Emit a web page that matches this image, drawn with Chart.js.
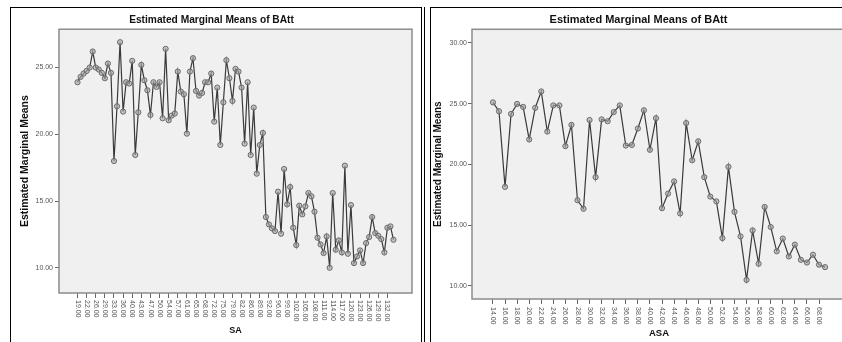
<!DOCTYPE html>
<html>
<head>
<meta charset="utf-8">
<script src="https://cdn.jsdelivr.net/npm/chart.js@4/dist/chart.umd.min.js"></script>
<style>
  html, body { margin: 0; padding: 0; background: #fff; width: 842px; height: 342px; overflow: hidden; }
  .panel { position: absolute; border: 1px solid #000; border-bottom: none; }
  #p1 { left: 10px; top: 7px; width: 410px; height: 340px; }
  #p2 { left: 430px; top: 7px; width: 420px; height: 340px; border-right: none; }
  .sep { position: absolute; left: 424px; top: 7px; width: 1px; height: 340px; background: #000; }
  canvas { position: absolute; }
  #c1 { left: 11px; top: 8px; }
  #c2 { left: 431px; top: 8px; }
</style>
</head>
<body>
<div class="panel" id="p1"></div>
<div class="sep"></div>
<div class="panel" id="p2"></div>
<canvas id="c1" width="410" height="334"></canvas>
<canvas id="c2" width="420" height="334"></canvas>
<script>
// SA categories (every third one gets a label)
const saValues = [19,20,21,22,23,24,26,27,28,29,30,31,33,34,35,36,37,38,40,41,42,43,44,45,
  47,48,49,50,51,53,54,55,56,57,59,60,61,62,63,65,66,67,68,69,71,72,73,74,75,76,
  78,79,80,81,82,83,85,86,87,88,89,90,91,92,94,95,96,97,98,99,100,101,
  102,103,104,105,106,107,108,109,110,111,112,113,114,115,116,117,118,119,120,
  121,122,123,124,125,126,127,128,129,130,131,132,133,134];
const saMeans = [23.9,24.3,24.55,24.75,25.0,26.2,25.0,24.85,24.6,24.2,
  25.3,24.6,18.0,22.1,26.9,21.7,23.9,23.8,25.5,18.45,
  21.65,25.2,24.05,23.3,21.45,23.9,23.55,23.9,21.2,26.4,
  21.05,21.4,21.55,24.7,23.2,23.0,20.05,24.7,25.7,23.25,
  22.9,23.1,23.9,23.9,24.55,20.95,23.5,19.2,22.4,25.55,
  24.2,22.5,24.9,24.7,23.5,19.3,23.9,18.45,22.0,17.05,
  19.2,20.1,13.8,13.25,12.95,12.75,15.7,12.55,17.4,14.75,
  16.05,13.0,11.7,14.65,14.0,14.6,15.6,15.35,14.2,12.25,
  11.75,11.1,12.35,10.0,15.6,11.35,12.05,11.15,17.65,11.05,
  14.7,10.35,10.85,11.3,10.35,11.85,12.3,13.8,12.6,12.4,
  12.15,11.15,13.0,13.1,12.1];
const saTicks = [10, 15, 20, 25];

// ASA categories (every second one gets a label)
const asaValues = [14,15,16,17,18,19,20,21,22,23,24,25,26,27,28,29,30,31,32,33,34,35,36,37,
  38,39,40,41,42,43,44,45,46,47,48,49,50,51,52,53,54,55,56,57,58,59,60,61,62,63,
  64,65,66,67,68,69];
const asaMeans = [25.1,24.37,18.15,24.15,24.97,24.73,22.05,24.65,26.0,22.7,
  24.85,24.85,21.5,23.25,17.05,16.35,23.65,18.95,23.7,23.55,
  24.3,24.85,21.55,21.6,22.95,24.45,21.2,23.8,16.4,17.6,
  18.6,15.97,23.4,20.34,21.9,18.95,17.35,16.96,13.94,19.8,
  16.1,14.08,10.5,14.57,11.83,16.5,14.85,12.85,13.9,12.43,
  13.4,12.15,11.93,12.57,11.75,11.55];
const asaTicks = [10, 15, 20, 25, 30];

const FONT = '"Liberation Sans", Arial, sans-serif';

// grey plot box like SPSS
const plotFrame = {
  id: 'plotFrame',
  beforeDraw(chart) {
    const a = chart.chartArea, ctx = chart.ctx;
    ctx.save();
    ctx.fillStyle = '#f0f0f0';
    ctx.fillRect(a.left, a.top, a.right - a.left, a.bottom - a.top);
    ctx.restore();
  },
  beforeDatasetsDraw(chart) {
    const a = chart.chartArea, ctx = chart.ctx;
    ctx.save();
    ctx.strokeStyle = '#8c8c8c';
    ctx.lineWidth = 1.5;
    ctx.strokeRect(a.left, a.top, a.right - a.left, a.bottom - a.top);
    ctx.restore();
  }
};

// x labels read top-to-bottom (rotated clockwise)
const downLabels = {
  id: 'downLabels',
  afterDraw(chart, args, opts) {
    const sc = chart.scales.x, ctx = chart.ctx;
    ctx.save();
    ctx.font = '7px ' + FONT;
    ctx.fillStyle = '#555';
    ctx.textAlign = 'left';
    ctx.textBaseline = 'middle';
    sc.ticks.forEach(t => {
      const x = sc.getPixelForValue(t.value);
      ctx.save();
      ctx.translate(x, sc.top + opts.gap);
      ctx.rotate(Math.PI / 2);
      ctx.fillText(opts.cats[t.value].toFixed(2), 0, 0);
      ctx.restore();
    });
    ctx.restore();
  }
};

function makeChart(id, cats, means, yTicks, s) {
  new Chart(document.getElementById(id), {
    type: 'line',
    data: {
      datasets: [{
        data: means.map((v, i) => ({ x: i, y: v })),
        borderColor: '#3a3a3a',
        borderWidth: 1.2,
        pointRadius: 2.6,
        pointBackgroundColor: 'rgba(165,165,165,0.6)',
        pointBorderColor: '#6a6a6a',
        pointBorderWidth: 1,
        tension: 0
      }]
    },
    plugins: [plotFrame, downLabels],
    options: {
      responsive: false,
      animation: false,
      layout: { padding: { left: 0, right: s.padRight, top: 0, bottom: 0 } },
      plugins: {
        legend: { display: false },
        tooltip: { enabled: false },
        title: {
          display: true,
          text: 'Estimated Marginal Means of BAtt',
          color: '#111',
          font: { family: FONT, size: s.titleSize, weight: 'bold', lineHeight: 1.2 },
          padding: { top: s.titleTop, bottom: s.titleBottom }
        },
        downLabels: { cats: cats, gap: s.labelGap }
      },
      scales: {
        x: {
          type: 'linear',
          min: -s.xPad,
          max: cats.length - 1 + s.xPad,
          border: { display: false },
          grid: { drawOnChartArea: false, drawTicks: true, tickLength: 5, color: '#666' },
          ticks: { display: false },
          afterBuildTicks: sc => {
            sc.ticks = cats.map((c, i) => i).filter(i => i % s.every === 0).map(i => ({ value: i }));
          },
          afterFit: sc => { sc.height = s.xHeight; sc.paddingLeft = 0; sc.paddingRight = 0; },
          title: {
            display: true,
            text: s.xTitle,
            color: '#111',
            font: { family: FONT, size: s.xTitleSize, weight: 'bold', lineHeight: 1 },
            padding: { top: 0, bottom: s.xTitlePad }
          }
        },
        y: {
          min: s.yMin,
          max: s.yMax,
          border: { display: false },
          grid: { drawOnChartArea: false, drawTicks: true, tickLength: 4, color: '#666' },
          ticks: {
            color: '#555',
            padding: s.yTickPad,
            font: { family: FONT, size: 7 },
            callback: v => v.toFixed(2)
          },
          afterBuildTicks: sc => { sc.ticks = yTicks.map(v => ({ value: v })); },
          afterFit: sc => { sc.width = s.yWidth; sc.paddingTop = 0; sc.paddingBottom = 0; },
          title: {
            display: true,
            text: 'Estimated Marginal Means',
            color: '#111',
            font: { family: FONT, size: s.yTitleSize, weight: 'bold', lineHeight: 1 },
            padding: { top: s.yTitlePad, bottom: 0 }
          }
        }
      }
    }
  });
}

makeChart('c1', saValues, saMeans, saTicks, {
  padRight: 9, titleSize: 10.2, titleTop: 6, titleBottom: 3,
  xPad: 6.1, every: 3, xHeight: 49, xTitle: 'SA', xTitleSize: 9, xTitlePad: 6.5, labelGap: 7,
  yMin: 8.11, yMax: 27.87, yWidth: 48, yTickPad: 2, yTitleSize: 10.5, yTitlePad: 9
});

makeChart('c2', asaValues, asaMeans, asaTicks, {
  padRight: 5, titleSize: 11, titleTop: 5.4, titleBottom: 2.7,
  xPad: 3.47, every: 2, xHeight: 43, xTitle: 'ASA', xTitleSize: 9.5, xTitlePad: 4.2, labelGap: 8,
  yMin: 8.93, yMax: 31.11, yWidth: 41, yTickPad: 1, yTitleSize: 10, yTitlePad: 2
});
</script>
</body>
</html>
